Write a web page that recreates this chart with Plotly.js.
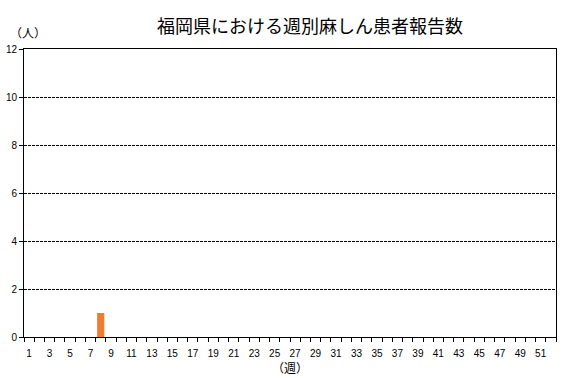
<!DOCTYPE html>
<html><head><meta charset="utf-8">
<script src="https://cdn.plot.ly/plotly-3.0.1.min.js"></script>
<style>html,body{margin:0;padding:0;background:#fff}#chart{width:567px;height:378px}</style>
</head><body><div id="chart"></div>
<script>
const weeks = Array.from({length:52},(_,i)=>i+1);
const cases = [0,0,0,0,0,0,0,1,0,0,0,0,0,0,0,0,0,0,0,0,0,0,0,0,0,0,0,0,0,0,0,0,0,0,0,0,0,0,0,0,0,0,0,0,0,0,0,0,0,0,0,0];
const xTickVals = weeks.filter(w=>w%2===1);
const xTickText = xTickVals.map(String);
const xBoundaries = Array.from({length:53},(_,i)=>i+0.5);
const yTickVals = [0,2,4,6,8,10,12];
const titleText = '福岡県における週別麻しん患者報告数';
const yLabel = '（人）';
const xLabel = '（週）';

const fontFam = '"Noto Sans CJK JP", "Liberation Sans", sans-serif';
const numFont = {size:10, family:'"Liberation Sans", sans-serif', color:'#000'};
Plotly.newPlot('chart', [
  {type:'bar', x:weeks, y:cases, marker:{color:'#ED7D31', line:{width:0}}, width:0.7, hoverinfo:'none'},
  {type:'scatter', mode:'markers', x:[weeks[0]], y:[0], xaxis:'x2', marker:{opacity:0}, hoverinfo:'none'}
], {
  width:567, height:378,
  margin:{l:24, r:11, t:49, b:41},
  paper_bgcolor:'#fff', plot_bgcolor:'#fff',
  showlegend:false,
  font:{family:fontFam, color:'#000', size:10},
  title:{text:titleText, font:{family:fontFam, size:18, color:'#000'}, x:310/567, xanchor:'center', y:1-27/378, yanchor:'middle'},
  xaxis:{
    type:'linear', range:[0.5,52.5], tickmode:'array', tickvals:xBoundaries, showticklabels:false,
    ticks:'outside', ticklen:4, tickcolor:'#000', tickwidth:1,
    showgrid:false, zeroline:false,
    showline:true, linecolor:'#000', linewidth:1, mirror:true
  },
  xaxis2:{
    type:'linear', range:[0.5,52.5], overlaying:'x', side:'bottom', anchor:'y',
    tickmode:'array', tickvals:xTickVals, ticktext:xTickText,
    ticks:'outside', ticklen:7, tickcolor:'rgba(0,0,0,0)',
    showgrid:false, zeroline:false, showline:false, tickfont:numFont
  },
  yaxis:{
    range:[0,12], tickmode:'array', tickvals:yTickVals,
    ticks:'outside', ticklen:4, tickcolor:'#000',
    showgrid:true, gridcolor:'#000', griddash:'3px,1px', gridwidth:1,
    zeroline:false, showline:true, linecolor:'#000', linewidth:1, mirror:true,
    tickfont:numFont
  },
  annotations:[
    {text:yLabel, xref:'paper', yref:'paper', x:-0.03, y:1+16/288, xanchor:'left', yanchor:'middle', showarrow:false, font:{size:12, family:fontFam}},
    {text:xLabel, xref:'paper', yref:'paper', x:(290-24)/532, y:-30/288, xanchor:'center', yanchor:'middle', showarrow:false, font:{size:12, family:fontFam}}
  ]
}, {staticPlot:true});
</script></body></html>
